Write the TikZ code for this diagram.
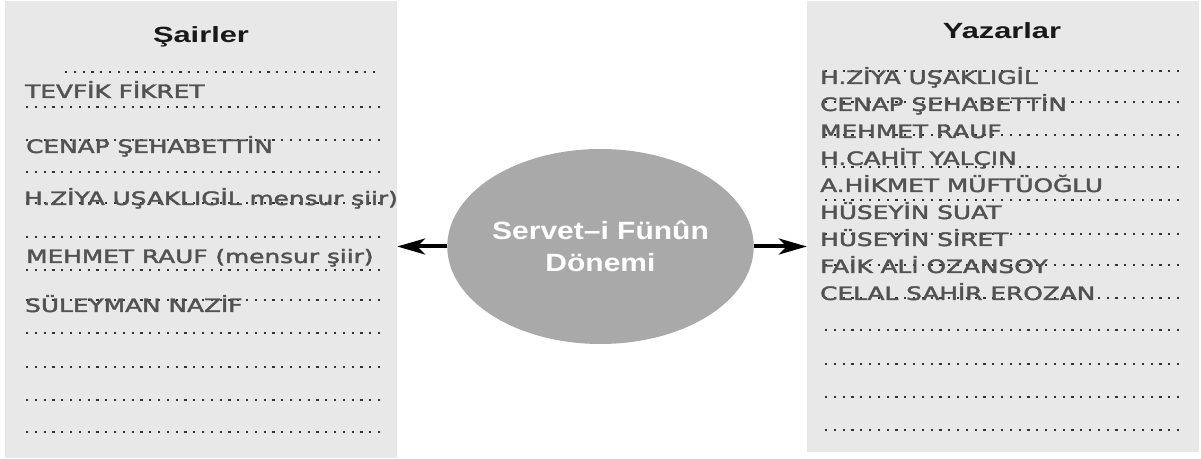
\documentclass[tikz,border=0pt]{standalone}
\usepackage{fontspec}
\usepackage{graphicx}
\setmainfont{DejaVu Sans}
\newfontfamily\listfont{DejaVu Sans}[BoldFont={DejaVu Sans},BoldFeatures={FakeBold=2}]
\newfontfamily\headfont{Liberation Sans}
\usetikzlibrary{arrows.meta,shapes.geometric}
\definecolor{panelgray}{HTML}{E8E8E8}
\definecolor{ellgray}{HTML}{A9A9A9}
\definecolor{listgray}{HTML}{525252}
\definecolor{dotgray}{HTML}{333333}
\newcommand\sxl[1]{\scalebox{1.34}[1]{#1}}
\newcommand\sxh[1]{\scalebox{1.4}[1]{#1}}
\newcommand\sxe[1]{\scalebox{1.2}[1]{#1}}
\begin{document}
\begin{tikzpicture}[x=1bp,y=-1bp,
  panel/.style={rectangle,fill=panelgray,draw=none,inner sep=0pt},
  listitem/.style={inner sep=0pt,anchor=base west,text=listgray,font=\listfont\bfseries\fontsize{18.5bp}{20bp}\selectfont},
  headtitle/.style={inner sep=0pt,anchor=base,text=black!90,font=\headfont\bfseries\fontsize{22bp}{24bp}\selectfont},
  dotline/.style={draw=dotgray,line width=2.1bp,dash pattern=on 2.1bp off 6.7bp},
  arr/.style={-{Stealth[length=28bp,width=16bp,inset=8bp]},line width=4bp,black}]
\useasboundingbox (0,0) rectangle (1201,459);
% panels
\node[panel,minimum width=392bp,minimum height=457bp] (lp) at (201,229.5) {};
\node[panel,minimum width=392bp,minimum height=451bp] (rp) at (1003,226.5) {};
% titles
\node[headtitle] (lt) at (201,43) {\sxh{Şairler}};
\node[headtitle] (rt) at (1002,39) {\sxh{Yazarlar}};
% dotted lines left
\draw[dotline] (65,72) -- (380,72);
\foreach \yy in {107,140,172,203,237,270,300,333,367,400,432}
  \draw[dotline] (26,\yy) -- (380,\yy);
% dotted lines right
\foreach \yy in {71,102,135,167,200,234,265,298,330,364,397,430}
  \draw[dotline] (825,\yy) -- (1180,\yy);
% left items
\node[listitem] (l1) at (25,98) {\sxl{TEVFİK FİKRET}};
\node[listitem] (l2) at (26,153) {\sxl{CENAP ŞEHABETTİN}};
\node[listitem] (l3) at (24,205) {\sxl{H.ZİYA UŞAKLIGİL mensur şiir)}};
\node[listitem] (l4) at (26,263) {\sxl{MEHMET RAUF (mensur şiir)}};
\node[listitem] (l5) at (25,312) {\sxl{SÜLEYMAN NAZİF}};
% right items
\node[listitem] (r1) at (820,84) {\sxl{H.ZİYA UŞAKLIGİL}};
\node[listitem] (r2) at (820,111) {\sxl{CENAP ŞEHABETTİN}};
\node[listitem] (r3) at (820,138) {\sxl{MEHMET RAUF}};
\node[listitem] (r4) at (820,165) {\sxl{H.CAHİT YALÇIN}};
\node[listitem] (r5) at (820,192) {\sxl{A.HİKMET MÜFTÜOĞLU}};
\node[listitem] (r6) at (820,219) {\sxl{HÜSEYİN SUAT}};
\node[listitem] (r7) at (820,246) {\sxl{HÜSEYİN SİRET}};
\node[listitem] (r8) at (820,273) {\sxl{FAİK ALİ OZANSOY}};
\node[listitem] (r9) at (820,300) {\sxl{CELAL SAHİR EROZAN}};
% center ellipse
\node[ellipse,fill=ellgray,draw=none,minimum width=287bp,minimum height=195bp,inner sep=0pt,
  text=white,align=center,font=\headfont\bfseries\fontsize{25bp}{32bp}\selectfont]
  (ell) at (600.5,246.5) {\sxe{Servet–i Fünûn}\\\sxe{Dönemi}};
% arrows
\draw[arr] (ell.west) -- (ell.west -| lp.east);
\draw[arr] (ell.east) -- (ell.east -| rp.west);
\end{tikzpicture}
\end{document}
